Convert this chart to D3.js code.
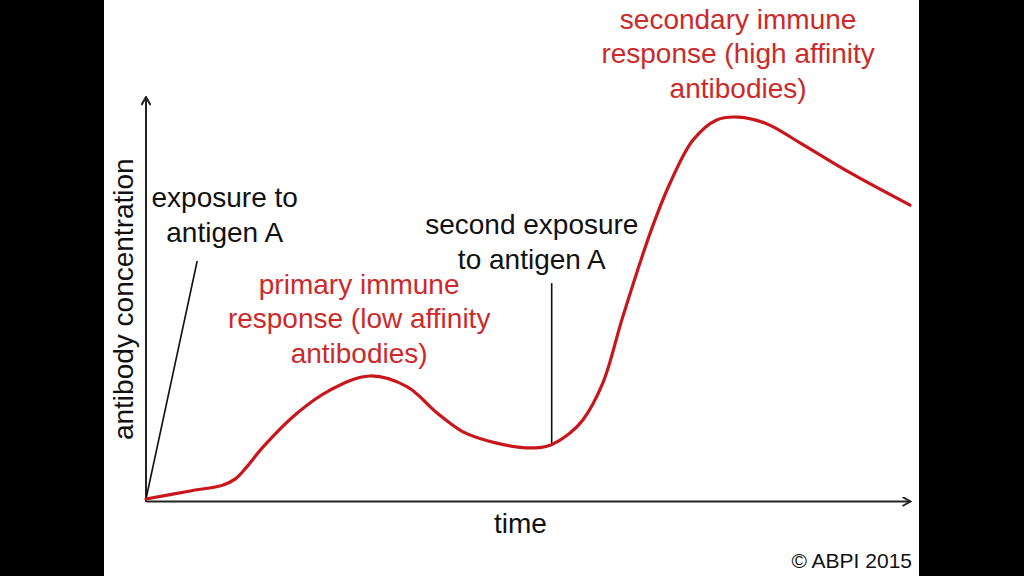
<!DOCTYPE html>
<html>
<head>
<meta charset="utf-8">
<script src="https://cdn.jsdelivr.net/npm/d3@7"></script>
<style>
  html, body { margin: 0; padding: 0; background: #000; }
  svg { display: block; }
  text { font-family: "Liberation Sans", Arial, sans-serif; }
</style>
</head>
<body>
<svg width="1024" height="576"></svg>
<script>
// time (arbitrary units, 0-100) and antibody concentration (0-100)
var timeVals = [0, 5.8, 10.1, 11.7, 13.2, 15.3, 19.8, 24.1, 29.3, 34.2, 38.1, 41.5, 45.9, 50.3, 52.9, 55.5, 57.2, 59.8, 62.4, 66.0, 68.6, 71.6, 74.7, 77.5, 81.3, 85.6, 92.2, 100];
var concVals = [0, 2.0, 3.5, 5.0, 8.0, 12.9, 21.4, 27.1, 30.6, 27.9, 21.4, 16.7, 13.9, 12.7, 13.4, 16.4, 19.7, 28.9, 45.3, 66.2, 78.6, 89.3, 94.3, 95.0, 93.3, 88.6, 81.1, 73.1];

// exposure pointer lines: [t0, c0, t1, c1]
var firstExposure = [0, 0, 6.7, 59.2];
var secondExposure = [53.1, 13.9, 53.1, 53.7];

var axisLabels = {x: "time", y: "antibody concentration"};
var blackNotes = [
  {lines: ["exposure to", "antigen A"], t: 10.3, c: 72.6},
  {lines: ["second exposure", "to antigen A"], t: 50.5, c: 65.9}
];
var redNotes = [
  {lines: ["primary immune", "response (low affinity", "antibodies)"], t: 27.9, c: 51.0},
  {lines: ["secondary immune", "response (high affinity", "antibodies)"], t: 77.5, c: 117}
];
var credit = "© ABPI 2015";

var svg = d3.select("svg"),
    margin = {top: 97, right: 114, bottom: 77, left: 146},
    width = 1024 - margin.left - margin.right,
    height = 576 - margin.top - margin.bottom;

var red = "#c8161c";
var redText = "#cc2a2a";

// white panel between the black side bars
svg.append("rect")
    .attr("x", 104).attr("y", 0)
    .attr("width", 815).attr("height", 576)
    .attr("fill", "#fff");

var defs = svg.append("defs");
defs.append("marker")
    .attr("id", "arrow")
    .attr("viewBox", "0 0 10 10")
    .attr("refX", 9).attr("refY", 5)
    .attr("markerWidth", 10).attr("markerHeight", 10)
    .attr("markerUnits", "userSpaceOnUse")
    .attr("orient", "auto")
  .append("path")
    .attr("d", "M1,0.5 L9,5 L1,9.5")
    .attr("fill", "none")
    .attr("stroke", "#222")
    .attr("stroke-width", 2);

var x = d3.scaleLinear().domain([0, 100]).range([0, width]),
    y = d3.scaleLinear().domain([0, 100]).range([height, 0]);

var g = svg.append("g")
    .attr("transform", "translate(" + margin.left + "," + margin.top + ")");

// axes with no ticks, arrowheads at the ends
var xAxisG = g.append("g")
    .attr("transform", "translate(0," + (height + 2) + ")")
    .call(d3.axisBottom(x).tickValues([]).tickSizeOuter(0));
xAxisG.select(".domain")
    .attr("stroke", "#222").attr("stroke-width", 2)
    .attr("marker-end", "url(#arrow)");

var yAxisG = g.append("g")
    .call(d3.axisLeft(y).tickValues([]).tickSizeOuter(0));
yAxisG.select(".domain")
    .attr("stroke", "#222").attr("stroke-width", 2)
    .attr("d", "M0," + (height + 3) + "V0")
    .attr("marker-end", "url(#arrow)");

g.append("text")
    .attr("x", x(49))
    .attr("y", height + 34)
    .attr("text-anchor", "middle")
    .attr("font-size", 28)
    .attr("fill", "#111")
    .text(axisLabels.x);

g.append("text")
    .attr("transform", "translate(-13," + y(49.7) + ") rotate(-90)")
    .attr("text-anchor", "middle")
    .attr("font-size", 28)
    .attr("fill", "#111")
    .text(axisLabels.y);

// pointer lines
[firstExposure, secondExposure].forEach(function(p) {
  g.append("line")
      .attr("x1", x(p[0])).attr("y1", y(p[1]))
      .attr("x2", x(p[2])).attr("y2", y(p[3]))
      .attr("stroke", "#111")
      .attr("stroke-width", 1.6);
});

// the response curve
var pts = timeVals.map(function(t, i) { return {t: t, c: concVals[i]}; });
var line = d3.line()
    .curve(d3.curveCatmullRom.alpha(0.5))
    .x(function(d) { return x(d.t); })
    .y(function(d) { return y(d.c); });

g.append("path")
    .datum(pts)
    .attr("d", line)
    .attr("fill", "none")
    .attr("stroke", red)
    .attr("stroke-width", 3.2)
    .attr("stroke-linecap", "round");

function note(d, color) {
  var t = g.append("text")
      .attr("x", x(d.t))
      .attr("y", y(d.c))
      .attr("text-anchor", "middle")
      .attr("font-size", 28)
      .attr("fill", color);
  d.lines.forEach(function(s, i) {
    t.append("tspan")
        .attr("x", x(d.t))
        .attr("dy", i === 0 ? 0 : 34.5)
        .text(s);
  });
}
blackNotes.forEach(function(d) { note(d, "#111"); });
redNotes.forEach(function(d) { note(d, redText); });

svg.append("text")
    .attr("x", 912)
    .attr("y", 568)
    .attr("text-anchor", "end")
    .attr("font-size", 21)
    .attr("fill", "#111")
    .text(credit);
</script>
</body>
</html>
